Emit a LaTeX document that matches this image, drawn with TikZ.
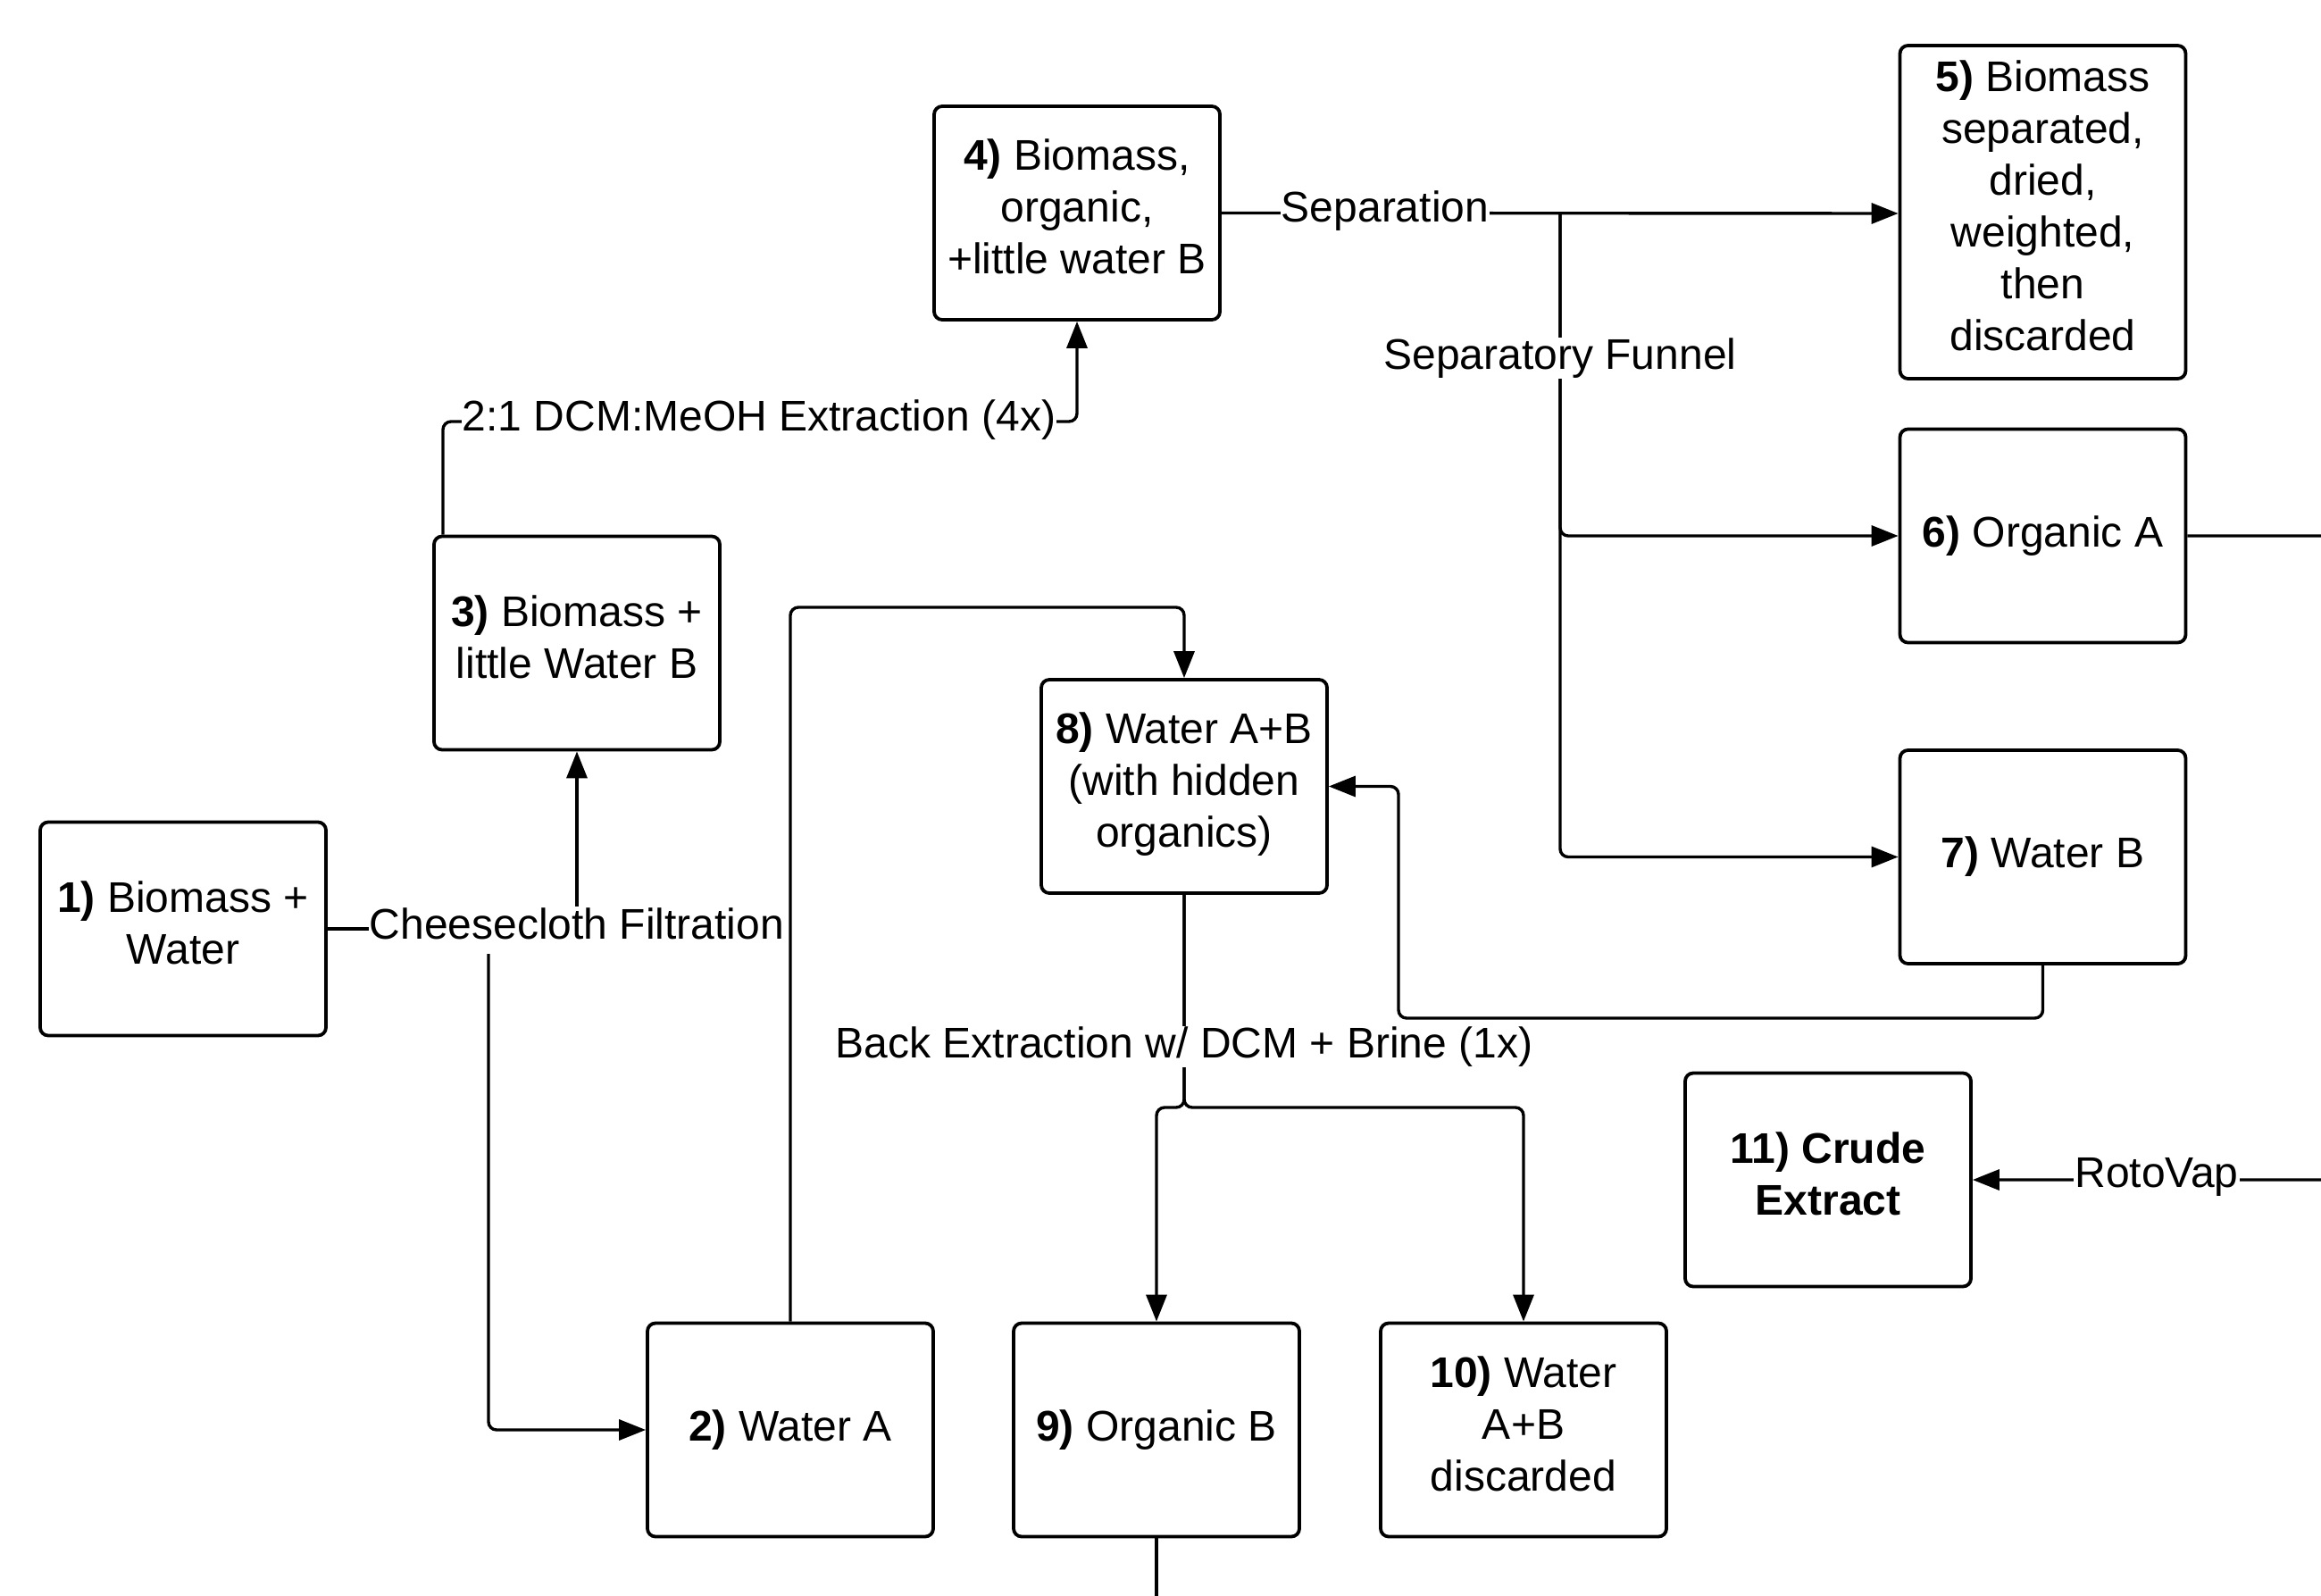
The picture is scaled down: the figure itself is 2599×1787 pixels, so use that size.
\documentclass[tikz,border=0pt]{standalone}
\usepackage{fontspec}
\setmainfont{Liberation Sans}
\usetikzlibrary{arrows.meta}
\pgfdeclarelayer{bg}
\pgfsetlayers{bg,main}
\begin{document}
\begin{tikzpicture}[x=1pt,y=-1pt,
  box/.style={draw, line width=3.8pt, rounded corners=9pt, fill=white,
    minimum width=320pt, minimum height=239pt, align=center, inner sep=4pt,
    font=\fontsize{48}{58}\selectfont},
  raise/.style={execute at end node={\rule[-#1]{0pt}{0pt}}},
  lbl/.style={fill=white, inner sep=1pt, font=\fontsize{48}{58}\selectfont},
  conn/.style={line width=3.4pt, rounded corners=9pt},
  arr/.style={conn, -{Triangle[length=30pt,width=23pt]}}]
\path[use as bounding box] (0,0) rectangle (2599,1787);

% boxes
\node[box, raise=14pt] (b1) at (205,1040) {\textbf{1)} Biomass +\\Water};
\node[box, raise=4pt] (b2) at (885,1601) {\textbf{2)} Water A};
\node[box, raise=14pt] (b3) at (646,720) {\textbf{3)} Biomass +\\little Water B};
\node[box, raise=14pt] (b4) at (1206,238.5) {\textbf{4)} Biomass,\\organic,\\+little water B};
\node[box, raise=14pt, minimum height=373pt] (b5) at (2287.5,237.5) {\textbf{5)} Biomass\\separated,\\dried,\\weighted,\\then\\discarded};
\node[box, raise=6pt] (b6) at (2287.5,600) {\textbf{6)} Organic A};
\node[box, raise=4pt] (b7) at (2287.5,959.5) {\textbf{7)} Water B};
\node[box, raise=14pt] (b8) at (1326,880.5) {\textbf{8)} Water A+B\\(with hidden\\organics)};
\node[box, raise=4pt] (b9) at (1295,1601) {\textbf{9)} Organic B};
\node[box, raise=14pt] (b10) at (1706,1601) {\textbf{10)} Water\\A+B\\discarded};
\node[box, raise=14pt] (b11) at (2047,1321) {\textbf{11) Crude}\\\textbf{Extract}};

% labels
\node[lbl] (cf) at (646,1034) {Cheesecloth Filtration};
\node[lbl] (ex) at (850,470) {2:1 DCM:MeOH Extraction (4x)};
\node[lbl] (sep) at (1551,236) {Separation};
\node[lbl] (sf) at (1747,401) {Separatory Funnel};
\node[lbl] (be) at (1326,1172) {Back Extraction w/ DCM + Brine (1x)};
\node[lbl] (rv) at (2415,1318) {RotoVap};

\coordinate (j1) at (496,472);
\coordinate (j2) at (1206,472);
\coordinate (sj) at (1747,239);
\coordinate (cj) at (547,1068);
\coordinate (w2) at (885,680);
\coordinate (w8) at (1326,680);
\coordinate (r7) at (1566,1140);
\coordinate (bj) at (1326,1240);
\coordinate (e1) at (2680,600);
\coordinate (e2) at (2680,1321);
\coordinate (e9) at (1295,1840);

\begin{pgfonlayer}{bg}
\fill[white] (0,0) rectangle (2599,1787);
\clip (0,0) rectangle (2599,1787);
% 1 -> 3 and 1 -> 2
\draw[conn] (b1.east) -- (b1.east -| cf.west);
\draw[arr] (cf.north -| b3.south) -- (b3.south);
\draw[arr] (cj) |- (b2.west);
% 3 -> 4
\draw[arr] (b3.north -| j1) -- (j1) -- (j2) -- (b4.south);
% 4 -> 5,6,7
\draw[arr] (b4.east) -- (b5.west |- sj);
\draw[arr] (sj) |- (b6.west);
\draw[arr] (sj) |- (b7.west);
% 2 -> 8
\draw[arr] (b2.north) -- (w2) -- (w8) -- (b8.north);
% 7 -> 8
\draw[arr] (b7.south) |- (r7) |- (b8.east);
% 8 -> 9, 10
\draw[arr] (b8.south) -- (bj) -| (b9.north);
\draw[arr] (b8.south) -- (bj) -| (b10.north);
% 6 -> 11
\draw[arr] (b6.east) -- (e1) -- (e2) -- (b11.east);
% 9 down
\draw[conn] (b9.south) -- (e9);
\end{pgfonlayer}
\end{tikzpicture}
\end{document}
